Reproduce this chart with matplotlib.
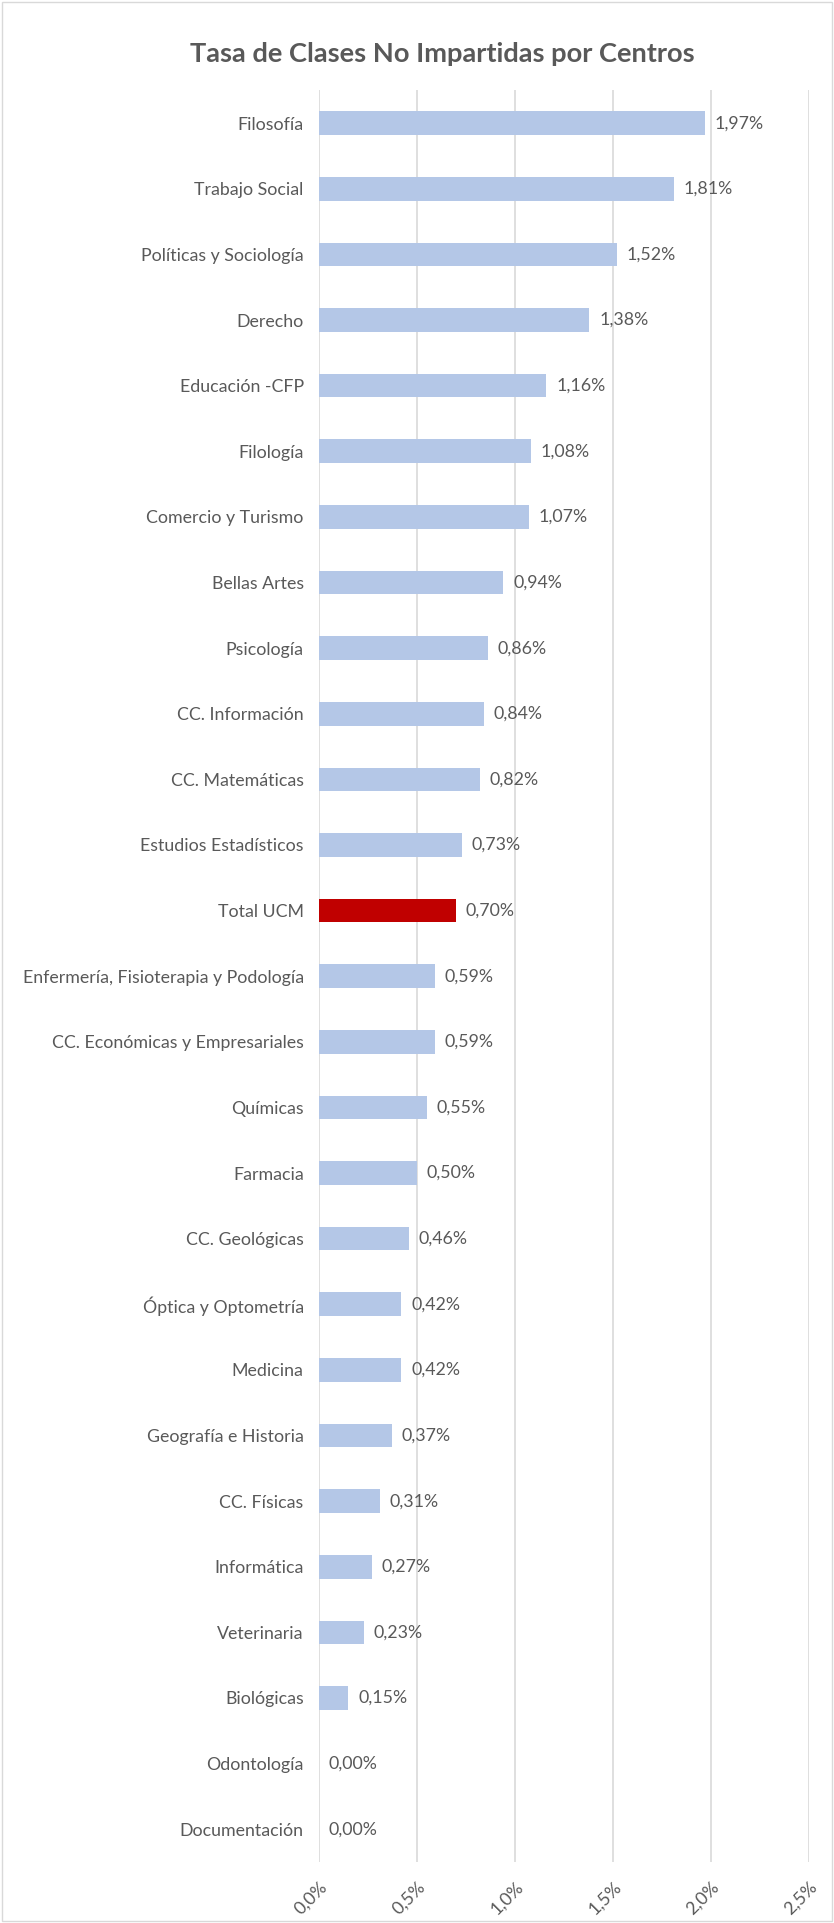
import matplotlib.pyplot as plt
from matplotlib.ticker import FuncFormatter
from matplotlib.patches import Rectangle

plt.rcParams['font.family'] = ['Lato', 'DejaVu Sans']

centros = ['Filosofía', 'Trabajo Social', 'Políticas y Sociología', 'Derecho',
           'Educación -CFP', 'Filología', 'Comercio y Turismo', 'Bellas Artes',
           'Psicología', 'CC. Información', 'CC. Matemáticas', 'Estudios Estadísticos',
           'Total UCM', 'Enfermería, Fisioterapia y Podología',
           'CC. Económicas y Empresariales', 'Químicas', 'Farmacia', 'CC. Geológicas',
           'Óptica y Optometría', 'Medicina', 'Geografía e Historia', 'CC. Físicas',
           'Informática', 'Veterinaria', 'Biológicas', 'Odontología', 'Documentación']
tasas = [1.97, 1.81, 1.52, 1.38, 1.16, 1.08, 1.07, 0.94, 0.86, 0.84, 0.82, 0.73,
         0.70, 0.59, 0.59, 0.55, 0.50, 0.46, 0.42, 0.42, 0.37, 0.31, 0.27, 0.23,
         0.15, 0.00, 0.00]

gris = '#595959'
colores = ['#c00000' if c == 'Total UCM' else '#b4c7e7' for c in centros]

fig = plt.figure(figsize=(8.34, 19.23), dpi=100)
ax = fig.add_axes([0.3825, 0.0317, 0.5875, 0.9213])

y = list(range(len(centros)))
ax.barh(y, tasas, height=0.36, color=colores, zorder=2)
for yi, v in zip(y, tasas):
    ax.text(v + 0.05, yi, f'{v:.2f}%'.replace('.', ','), va='center', ha='left',
            fontsize=12.8, color=gris)

ax.set_yticks(y)
ax.set_yticklabels(centros, fontsize=12.8, color=gris)
ax.set_ylim(len(centros) - 0.5, -0.5)
ax.set_xlim(0, 2.5)
ax.set_xticks([0, 0.5, 1.0, 1.5, 2.0, 2.5])
ax.xaxis.set_major_formatter(FuncFormatter(lambda x, p: f'{x:.1f}%'.replace('.', ',')))
plt.setp(ax.get_xticklabels(), rotation=45, ha='right', rotation_mode='anchor',
         fontsize=12.8, color=gris)
ax.tick_params(axis='both', length=0)
ax.tick_params(axis='y', pad=11)
ax.tick_params(axis='x', pad=12)
ax.grid(axis='x', color='#d9d9d9', linewidth=1.2, zorder=0)
for s in ax.spines.values():
    s.set_visible(False)

fig.text(0.53, 0.972, 'Tasa de Clases No Impartidas por Centros', ha='center', va='center',
         fontsize=19.6, fontweight='bold', color=gris)
fig.patches.append(Rectangle((0.002, 0.001), 0.996, 0.998, transform=fig.transFigure,
                             fill=False, edgecolor='#d9d9d9', linewidth=1))

fig.savefig('out.png', dpi=100)
